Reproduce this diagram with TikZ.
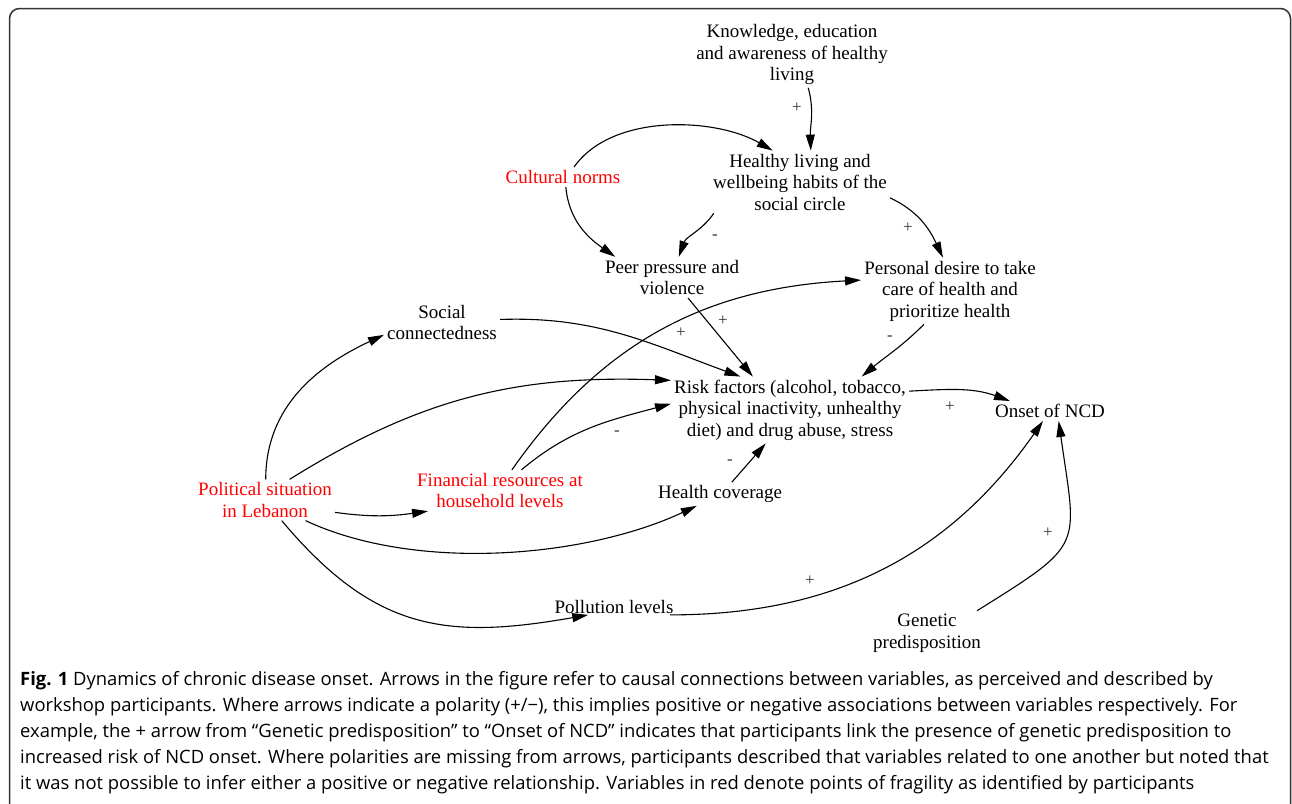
\documentclass[tikz,border=0pt]{standalone}
\usepackage{fontspec}
\setmainfont{Liberation Serif}
\newfontfamily\capfont{Open Sans}
\usetikzlibrary{arrows.meta}
\tikzset{
var/.style={align=center,inner sep=3pt,font=\fontsize{19}{21.5}\selectfont},
frag/.style={var,text=red},
link/.style={line width=1.1pt,-{Triangle[length=16pt,width=9pt]}},
sgn/.style={inner sep=0pt,font=\fontsize{17}{17}\selectfont,text=black!80},
capnote/.style={inner sep=0pt,align=left,font=\capfont\fontsize{18.4}{26}\selectfont}}

\begin{document}
\begin{tikzpicture}[x=1pt,y=1pt]
\useasboundingbox(0,0)rectangle(1292,-803);
\clip(0,0)rectangle(1292,-803);
\draw[line width=1.5pt,black!80,rounded corners=10pt](9.5,-8.5)rectangle(1290.5,-840);
\node[var](know)at(792,-54.5){Knowledge, education\\and awareness of healthy\\living};
\node[var](heal)at(800,-182){Healthy living and\\wellbeing habits of the\\social circle};
\node[frag](cult)at(563,-177){Cultural norms};
\node[var](peer)at(672,-277.5){Peer pressure and\\violence};
\node[var](pers)at(950,-291){Personal desire to take\\care of health and\\prioritize health};
\node[var](soc)at(442,-322.5){Social\\connectedness};
\node[var](risk)at(790,-410){Risk factors (alcohol, tobacco,\\physical inactivity, unhealthy\\diet) and drug abuse, stress};
\node[var](onset)at(1050,-411){Onset of NCD};
\node[frag](pol)at(265,-500){Political situation\\in Lebanon};
\node[frag](fin)at(500,-490.5){Financial resources at\\household levels};
\node[var](hcov)at(720,-494){Health coverage};
\node[var,inner sep=1pt](poll)at(614,-607){Pollution levels};
\node[var](gen)at(927,-633){Genetic\\predisposition};
\draw[link](know.-64)to[out=-75,in=92](heal.71);
\draw[link](cult.42)to[out=55,in=150,looseness=.85](heal.131);
\draw[link](cult.-74)to[out=-85,in=145](peer.160);
\draw[link](heal.200)to[out=235,in=70](peer.72);
\draw[link](heal.-10)to[out=-25,in=115](pers.102);
\draw[link](peer.-52)--(risk.138);
\draw[link](soc.3)to[out=2,in=160](risk.146);
\draw[link](fin.60)to[out=55,in=183](pers.173);
\draw[link](fin.44)to[out=40,in=195](risk.177);
\draw[link](pol.88)to[out=90,in=205](soc.192);
\draw[link](pol.40)to[out=32,in=178](risk.166);
\draw[link](pol.-10)to[out=-8,in=188](fin.196);
\draw[link](pol.-27)to[out=-25,in=205,looseness=.8](hcov.207);
\draw[link](pol.-51)to[out=-50,in=190,looseness=1.15](poll.197);
\draw[link](hcov.45)--(risk.234);
\draw[link](pers.232)to[out=225,in=40](risk.25);
\draw[link](risk.9)to[out=3,in=160](onset.166);
\draw[link](poll.-8)to[out=0,in=235](onset.235);
\draw[link](gen.24)to[out=32,in=-82,looseness=1.6](onset.-49);
\node[sgn](s1)at(797,-108){+};
\node[sgn](s2)at(715,-237){-};
\node[sgn](s3)at(908,-228){+};
\node[sgn](s4)at(723,-321){+};
\node[sgn](s5)at(681,-333){+};
\node[sgn](s6)at(890,-338){-};
\node[sgn](s7)at(617,-433){-};
\node[sgn](s8)at(730,-462){-};
\node[sgn](s9)at(950,-407){+};
\node[sgn](s10)at(810,-581){+};
\node[sgn](s11)at(1048,-533){+};
\node[capnote,anchor=north west](cap)at(20,-671){\textbf{Fig. 1} Dynamics of chronic disease onset. Arrows in the figure refer to causal connections between variables, as perceived and described by\\
workshop participants. Where arrows indicate a polarity (+/−), this implies positive or negative associations between variables respectively. For\\
example, the + arrow from “Genetic predisposition” to “Onset of NCD” indicates that participants link the presence of genetic predisposition to\\
increased risk of NCD onset. Where polarities are missing from arrows, participants described that variables related to one another but noted that\\
it was not possible to infer either a positive or negative relationship. Variables in red denote points of fragility as identified by participants};
\end{tikzpicture}
\end{document}
